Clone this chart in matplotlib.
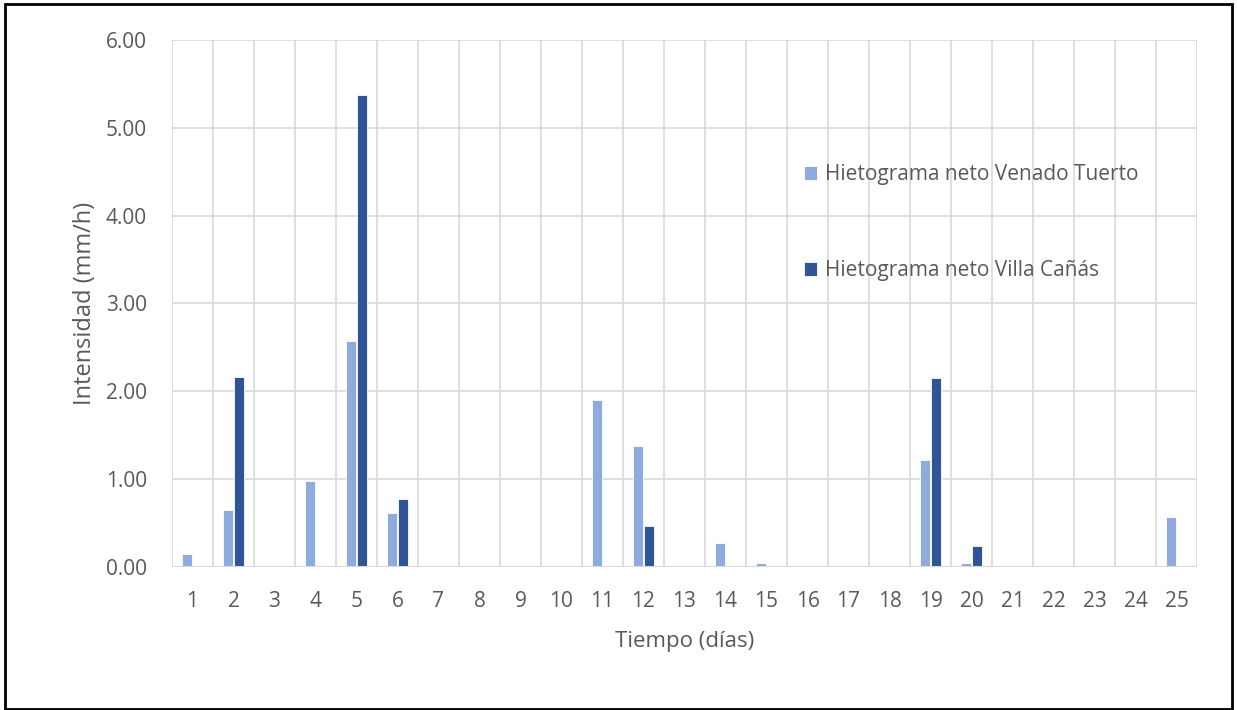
import matplotlib.pyplot as plt
from matplotlib.patches import Rectangle
import numpy as np

dias = list(range(1, 26))
venado_tuerto = [0.15, 0.65, 0, 0.98, 2.57, 0.62, 0, 0, 0, 0,
                 1.90, 1.38, 0, 0.27, 0.04, 0, 0, 0, 1.22, 0.04,
                 0, 0, 0, 0, 0.57]
villa_canas = [0, 2.16, 0, 0, 5.37, 0.77, 0, 0, 0, 0,
               0, 0.47, 0, 0, 0, 0, 0, 0, 2.15, 0.24,
               0, 0, 0, 0, 0]

plt.rcParams['font.family'] = ['Open Sans', 'DejaVu Sans']

fig = plt.figure(figsize=(12.37, 7.10), dpi=100)
ax = fig.add_axes([0.139, 0.2014, 0.8287, 0.7423])

x = np.arange(len(dias))
w = 0.24
ax.bar(x - 0.135, venado_tuerto, w, color='#8FAADC', edgecolor='white', linewidth=0.6,
       label='Hietograma neto Venado Tuerto', zorder=3)
ax.bar(x + 0.135, villa_canas, w, color='#2F5597', edgecolor='white', linewidth=0.6,
       label='Hietograma neto Villa Cañás', zorder=3)

ax.set_xlim(-0.5, len(dias) - 0.5)
ax.set_ylim(0, 6)
ax.set_yticks(np.arange(0, 6.5, 1))
ax.set_yticklabels(['%.2f' % v for v in np.arange(0, 6.5, 1)])
ax.set_xticks(x)
ax.set_xticklabels([str(d) for d in dias])

grid_c = '#D9D9D9'
for v in np.arange(1, 6.5, 1):
    ax.axhline(v, color=grid_c, lw=1.2, zorder=0)
for b in np.arange(-0.5, len(dias), 1):
    ax.axvline(b, color=grid_c, lw=1.2, zorder=0)
for s in ax.spines.values():
    s.set_visible(False)
ax.axhline(0, color=grid_c, lw=1.5, zorder=4)

ax.tick_params(length=0, labelsize=15, colors='#595959', pad=17)
ax.tick_params(axis='y', pad=18)
ax.set_xlabel('Tiempo (días)', fontsize=16, color='#595959', labelpad=14)
ax.set_ylabel('Intensidad (mm/h)', fontsize=17, color='#595959', labelpad=6)

leg = ax.legend(loc='upper left', bbox_to_anchor=(0.598, 0.8), frameon=False,
                fontsize=15, labelcolor='#595959', handlelength=0.65, handleheight=0.65,
                handletextpad=0.35, labelspacing=3.6)

fig.patches.append(Rectangle((0.004, 0.002), 0.992, 0.992, transform=fig.transFigure,
                             fill=False, edgecolor='black', linewidth=2))

fig.savefig('out.png', dpi=100)
